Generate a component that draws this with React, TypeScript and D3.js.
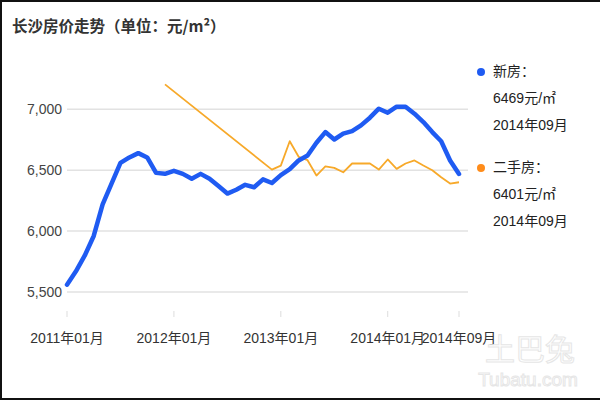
import React from "react";
import * as d3 from "d3";

const months: string[] = (() => {
  const out: string[] = [];
  for (let y = 2011; y <= 2014; y++) {
    for (let m = 1; m <= 12; m++) {
      if (y === 2014 && m > 9) break;
      out.push(`${y}年${String(m).padStart(2, "0")}月`);
    }
  }
  return out;
})();

const newHome: number[] = [
  5560, 5670, 5800, 5960, 6220, 6390, 6560, 6605, 6640, 6605, 6478, 6470,
  6495, 6470, 6430, 6470, 6430, 6370, 6308, 6340, 6380, 6360, 6425, 6395,
  6460, 6508, 6580, 6620, 6725, 6813, 6752, 6800, 6821, 6868, 6931, 7005,
  6972, 7021, 7021, 6964, 6895, 6813, 6738, 6580, 6469,
];

const secondHand: (number | null)[] = [
  null, null, null, null, null, null, null, null, null, null, null, 7205,
  null, null, null, null, null, null, null, null, null, null, null, 6505,
  6538, 6738, 6610, 6582, 6456, 6532, 6519, 6483, 6555, 6555, 6555, 6505,
  6588, 6511, 6555, 6580, 6538, 6500, 6442, 6390, 6401,
];

const yTicks: number[] = [5500, 6000, 6500, 7000];
const xTickIdx: number[] = [0, 12, 24, 36, 44];

const title = "长沙房价走势（单位：元/m²）";
const legendItems = [
  { name: "新房：", value: "6469元/㎡", date: "2014年09月", color: "#1f5bf2" },
  { name: "二手房：", value: "6401元/㎡", date: "2014年09月", color: "#ff8c1a" },
];

const FONT = "'Liberation Sans', Arial, 'Noto Sans CJK SC', sans-serif";

export default function App() {
  const x = d3.scaleLinear().domain([0, months.length - 1]).range([67, 459]);
  const y = d3.scaleLinear().domain([5500, 7000]).range([292, 109.3]);

  const lineGen = d3
    .line<{ i: number; v: number }>()
    .x((d) => x(d.i))
    .y((d) => y(d.v));

  const blueData = newHome.map((v, i) => ({ i, v }));
  const orangeData = secondHand
    .map((v, i) => ({ i, v }))
    .filter((d) => d.v !== null) as { i: number; v: number }[];

  return (
    <svg
      width={600}
      height={400}
      style={{ position: "absolute", left: 0, top: 0, background: "#fff" }}
      fontFamily={FONT}
    >
      <rect x={0} y={0} width={600} height={400} fill="#fff" />
      {/* frame */}
      <path d="M1,400 L1,1 L600,1" fill="none" stroke="#111" strokeWidth={2} />
      <line x1={0} x2={600} y1={399} y2={399} stroke="#111" strokeWidth={2} />

      <text x={12} y={32} fontSize={15.5} fontWeight="bold" fill="#333" fontFamily="'Noto Sans CJK SC', sans-serif">
        {title}
      </text>

      {/* grid */}
      {yTicks.map((t) => (
        <g key={t}>
          <line x1={67} x2={468} y1={y(t)} y2={y(t)} stroke="#e2e2e2" strokeWidth={1.5} />
          <text
            x={62}
            y={y(t) + 1}
            textAnchor="end"
            dominantBaseline="middle"
            fontSize={14}
            fill="#444"
          >
            {d3.format(",")(t)}
          </text>
        </g>
      ))}

      {/* x ticks */}
      {xTickIdx.map((i) => (
        <g key={i}>
          <line x1={x(i)} x2={x(i)} y1={311} y2={317} stroke="#ddd" strokeWidth={1} />
          <text
            x={x(i)}
            y={339}
            textAnchor="middle"
            dominantBaseline="middle"
            fontSize={14}
            fill="#333"
          >
            {months[i]}
          </text>
        </g>
      ))}

      {/* lines */}
      <path d={lineGen(orangeData) || ""} fill="none" stroke="#f7a92a" strokeWidth={1.8} strokeLinejoin="round" />
      <path d={lineGen(blueData) || ""} fill="none" stroke="#1f5bf2" strokeWidth={4.5} strokeLinejoin="round" strokeLinecap="round" />

      {/* legend */}
      {legendItems.map((l, k) => {
        const y0 = 72 + k * 96;
        return (
          <g key={l.name}>
            <circle cx={481} cy={y0} r={4} fill={l.color} />
            <text x={493} y={y0} dominantBaseline="middle" fontSize={14} fill="#222">
              {l.name}
            </text>
            <text x={493} y={y0 + 27} dominantBaseline="middle" fontSize={14} fill="#222">
              {l.value}
            </text>
            <text x={493} y={y0 + 54} dominantBaseline="middle" fontSize={14} fill="#222">
              {l.date}
            </text>
          </g>
        );
      })}

      {/* watermark */}
      <text x={530} y={360} textAnchor="middle" fontSize={30} fill="none" stroke="#e6e6e6" strokeWidth={1} fontFamily="'Noto Sans CJK SC', sans-serif">
        土巴兔
      </text>
      <text x={528} y={386} textAnchor="middle" fontSize={19} fill="none" stroke="#e6e6e6" strokeWidth={1}>
        Tubatu.com
      </text>
    </svg>
  );
}
